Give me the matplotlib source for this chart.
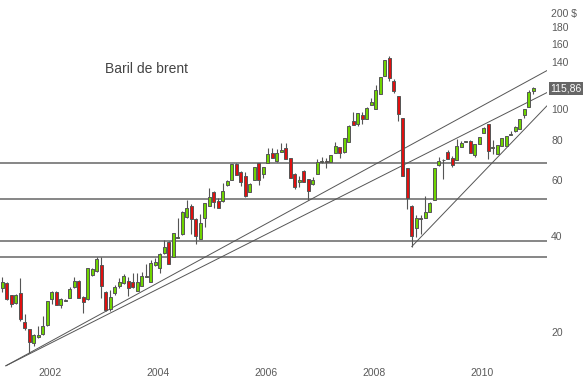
import numpy as np
import pandas as pd
import matplotlib
matplotlib.use('Agg')
import matplotlib.pyplot as plt
from matplotlib.ticker import NullLocator, NullFormatter
from matplotlib.transforms import blended_transform_factory

plt.rcParams['font.family'] = ['Liberation Sans', 'DejaVu Sans']

# ── Data: monthly Brent candles, May 2001 -> Mar 2011 ──────────────────────────
start_month = '2001-05'

opens = [27.5, 28.5, 26.1, 24.7, 26.5, 21.5, 20.4, 18.4, 19.2, 19.7,
         21.0, 25.4, 26.7, 24.3, 25.0, 25.6, 27.7, 28.9, 25.7, 25.4,
         30.1, 30.9, 32.3, 26.7, 23.6, 26.5, 27.9, 28.5, 28.9, 28.7,
         26.9, 27.9, 29.7, 28.7, 32.3, 31.7, 35.3, 38.3, 34.3, 39.4,
         40.4, 45.7, 49.5, 45.2, 39.1, 45.5, 49.6, 54.9, 51.5, 51.2,
         57.6, 59.8, 67.1, 63.4, 61.6, 54.9, 59.8, 67.6, 62.5, 67.8,
         72.7, 68.4, 73.3, 75.4, 70.1, 62.5, 59.1, 63.8, 60.2, 57.9,
         62.5, 68.1, 68.6, 68.1, 72.7, 75.9, 73.3, 78.6, 91.5, 89.6,
         95.7, 93.0, 102.7, 99.8, 111.2, 126.6, 144.2, 122.2, 109.6, 93.5,
         65.2, 49.6, 42.3, 45.5, 45.5, 47.5, 51.8, 66.4, 68.9, 73.2,
         70.1, 69.1, 75.9, 78.7, 79.2, 71.7, 77.5, 84.0, 89.6, 75.4,
         72.2, 76.5, 76.5, 83.0, 85.2, 86.5, 95.6, 101.2, 113.7]

highs = [29.7, 28.7, 26.1, 26.2, 29.5, 22.7, 20.4, 19.7, 20.9, 22.4,
         25.0, 26.8, 26.8, 25.5, 25.4, 27.7, 29.7, 29.1, 25.8, 31.8,
         31.6, 34.3, 34.3, 26.8, 27.1, 28.1, 29.5, 30.3, 29.7, 30.6,
         30.6, 30.8, 32.7, 33.6, 34.0, 35.2, 38.8, 38.5, 40.9, 45.5,
         47.9, 51.8, 50.2, 45.4, 46.8, 50.7, 56.5, 55.1, 52.6, 58.5,
         59.8, 67.3, 67.6, 63.6, 63.4, 58.3, 65.9, 67.8, 65.9, 75.4,
         75.4, 74.9, 78.1, 78.1, 70.3, 62.7, 61.5, 64.3, 60.4, 61.1,
         69.6, 70.6, 70.1, 71.8, 78.7, 76.1, 81.2, 88.6, 97.7, 96.9,
         97.7, 101.2, 108.0, 118.7, 126.0, 142.5, 146.3, 123.9, 109.8, 93.7,
         65.4, 49.8, 46.5, 46.5, 53.3, 50.9, 65.4, 70.6, 69.6, 74.3,
         71.1, 80.4, 79.2, 79.4, 79.8, 77.7, 81.8, 87.7, 89.8, 79.8,
         77.2, 81.2, 82.4, 84.9, 88.0, 93.1, 100.0, 114.5, 117.1]

lows = [26.7, 25.2, 24.0, 24.5, 21.6, 20.3, 17.1, 18.0, 19.1, 19.6,
        20.9, 24.5, 24.2, 23.8, 24.9, 25.5, 27.5, 25.5, 22.9, 25.2,
        29.9, 30.8, 25.6, 23.3, 23.2, 26.1, 27.5, 28.3, 25.8, 27.5,
        26.8, 27.8, 29.6, 28.6, 32.2, 30.6, 35.1, 32.5, 34.2, 39.3,
        40.2, 45.5, 40.4, 37.7, 39.0, 42.6, 49.4, 49.0, 48.9, 51.0,
        57.4, 59.6, 61.8, 57.3, 53.0, 54.7, 59.6, 57.6, 60.6, 67.6,
        69.9, 68.2, 73.0, 69.4, 60.5, 56.1, 57.0, 58.9, 51.8, 57.7,
        62.3, 67.6, 65.2, 67.9, 72.5, 70.1, 72.7, 78.4, 88.7, 88.4,
        89.6, 92.8, 102.5, 99.6, 111.0, 126.4, 122.2, 112.1, 91.5, 61.4,
        48.5, 37.0, 39.7, 40.4, 45.3, 47.3, 51.6, 66.2, 60.2, 69.4,
        65.9, 68.9, 75.7, 78.4, 72.5, 70.6, 77.3, 83.8, 69.6, 72.2,
        72.0, 76.3, 76.3, 82.8, 84.5, 86.3, 93.5, 101.0, 111.2]

closes = [28.7, 25.4, 24.5, 26.1, 22.0, 20.6, 18.6, 19.6, 19.6, 20.9,
          25.0, 26.7, 24.3, 25.4, 25.2, 27.3, 28.9, 25.6, 24.8, 31.7,
          31.5, 33.8, 27.9, 23.4, 25.7, 27.7, 28.7, 29.9, 27.5, 27.7,
          28.7, 29.9, 29.9, 32.9, 33.1, 35.1, 36.9, 32.7, 40.8, 39.7,
          47.3, 48.8, 45.2, 39.8, 43.8, 50.5, 53.0, 51.1, 49.0, 55.3,
          59.4, 67.1, 62.0, 58.9, 53.2, 58.1, 65.7, 59.8, 65.7, 72.2,
          70.1, 72.7, 74.3, 69.6, 60.7, 56.9, 59.8, 59.1, 55.3, 59.8,
          68.1, 68.6, 68.1, 71.6, 76.5, 72.7, 81.0, 88.4, 88.9, 96.7,
          93.0, 100.5, 105.0, 114.5, 125.8, 142.1, 124.9, 113.7, 96.3, 61.6,
          52.6, 39.9, 45.5, 45.2, 47.3, 50.7, 65.2, 68.4, 69.1, 69.6,
          66.4, 76.5, 78.1, 79.2, 72.7, 77.5, 81.6, 87.0, 73.8, 75.9,
          77.0, 81.0, 82.2, 83.6, 87.7, 92.9, 99.8, 112.8, 115.86]

# support/resistance levels and trend lines (month index, price)
levels = [67.6, 52.2, 38.5, 34.3]
trend_upper_x, trend_upper_y = [0.8, 121.0], [15.65, 131.6]
trend_mid_x, trend_mid_y = [0.8, 121.0], [15.65, 112.3]
trend_low_x, trend_low_y = [91.0, 121.0], [37.0, 102.0]

ytick_vals = [20, 40, 60, 80, 100, 140, 160, 180, 200]
ytick_labels = ['20', '40', '60', '80', '100', '140', '160', '180', '200 $']
year_labels = ['2002', '2004', '2006', '2008', '2010']

# ── Plot ───────────────────────────────────────────────────────────────────────
months = pd.period_range(start_month, periods=len(closes), freq='M')
x = np.arange(len(closes))
o = np.array(opens); h = np.array(highs); l = np.array(lows); c = np.array(closes)
up = c >= o

GREEN = '#6fd400'
RED = '#e01010'
EDGE = '#555555'
GREY = '#5a5a5a'

fig = plt.figure(figsize=(5.85, 3.81), dpi=100)
ax = fig.add_axes([0, 1 - 368 / 381, 547 / 585, 368 / 381])
ax.set_yscale('log')

for lv in levels:
    ax.axhline(lv, color='#666666', lw=1.1, zorder=1)

ax.plot(trend_upper_x, trend_upper_y, color='#555555', lw=0.7, zorder=1)
ax.plot(trend_mid_x, trend_mid_y, color='#555555', lw=0.7, zorder=1)
ax.plot(trend_low_x, trend_low_y, color='#555555', lw=0.7, zorder=1)

# wicks then bodies
ax.vlines(x, l, h, color=EDGE, lw=0.8, zorder=2)
body_lo = np.minimum(o, c)
body_hi = np.maximum(o, c)
body_hi = np.maximum(body_hi, body_lo * 1.004)
ax.bar(x, body_hi - body_lo, bottom=body_lo, width=0.62,
       color=np.where(up, GREEN, RED), edgecolor=EDGE, linewidth=0.7, zorder=3)

ax.set_xlim(-0.51, 121.04)
ax.set_ylim(15.4, 219.1)

for s in ax.spines.values():
    s.set_visible(False)

ax.yaxis.tick_right()
ax.set_yticks(ytick_vals)
ax.set_yticklabels(ytick_labels)
ax.yaxis.set_minor_locator(NullLocator())
ax.yaxis.set_minor_formatter(NullFormatter())
ax.tick_params(axis='y', length=0, pad=3, labelsize=7.5, labelcolor=GREY)

jan_idx = [i for i, m in enumerate(months) if m.month == 1 and str(m.year) in year_labels]
ax.set_xticks(jan_idx)
ax.set_xticklabels(year_labels, ha='left')
ax.tick_params(axis='x', length=0, pad=0, labelsize=7.5, labelcolor=GREY)

# last price tag
trans = blended_transform_factory(ax.transAxes, ax.transData)
ax.text(1.006, closes[-1], f'{closes[-1]:.2f}'.replace('.', ','), transform=trans,
        ha='left', va='center', fontsize=7.5, color='white',
        bbox=dict(facecolor='#666666', edgecolor='none', pad=1.2))

ax.text(0.192, 0.813, 'Baril de brent', transform=ax.transAxes,
        ha='left', va='center', fontsize=10, color='#444444')

fig.savefig('out.png', dpi=100)
